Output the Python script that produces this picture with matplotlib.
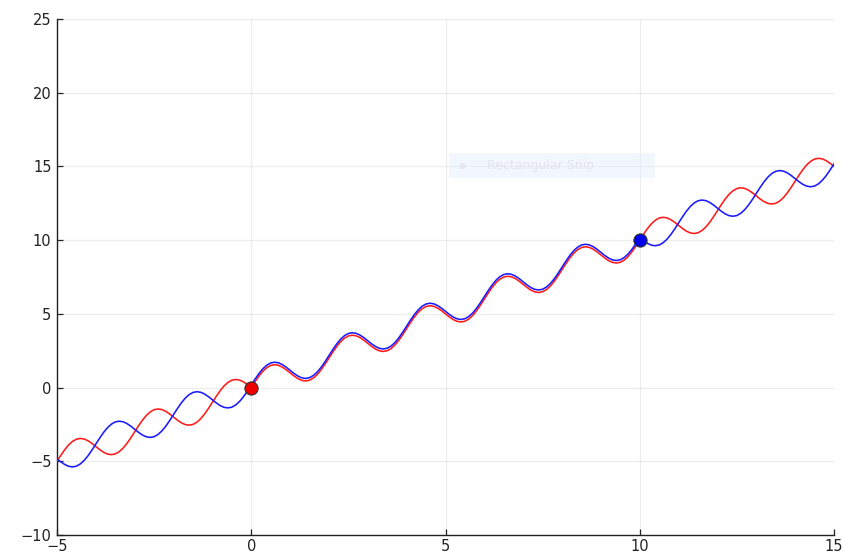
import numpy as np
import matplotlib.pyplot as plt
from matplotlib.patches import Rectangle

# sample positions along x (step 0.1)
x = np.linspace(-5, 15, 201)

# red trajectory (passes through the start point at the origin)
red_y = [
    -5.00, -4.59, -4.21, -3.89, -3.65, -3.50, -3.45, -3.49, -3.61, -3.79,
    -4.00, -4.21, -4.39, -4.51, -4.55, -4.50, -4.35, -4.11, -3.79, -3.41,
    -3.00, -2.59, -2.21, -1.89, -1.65, -1.50, -1.45, -1.49, -1.61, -1.79,
    -2.00, -2.21, -2.39, -2.51, -2.55, -2.50, -2.35, -2.11, -1.79, -1.41,
    -1.00, -0.59, -0.21, 0.11, 0.35, 0.50, 0.55, 0.51, 0.39, 0.21,
    0.00, 0.41, 0.79, 1.11, 1.35, 1.50, 1.55, 1.51, 1.39, 1.21,
    1.00, 0.79, 0.61, 0.49, 0.45, 0.50, 0.65, 0.89, 1.21, 1.59,
    2.00, 2.41, 2.79, 3.11, 3.35, 3.50, 3.55, 3.51, 3.39, 3.21,
    3.00, 2.79, 2.61, 2.49, 2.45, 2.50, 2.65, 2.89, 3.21, 3.59,
    4.00, 4.41, 4.79, 5.11, 5.35, 5.50, 5.55, 5.51, 5.39, 5.21,
    5.00, 4.79, 4.61, 4.49, 4.45, 4.50, 4.65, 4.89, 5.21, 5.59,
    6.00, 6.41, 6.79, 7.11, 7.35, 7.50, 7.55, 7.51, 7.39, 7.21,
    7.00, 6.79, 6.61, 6.49, 6.45, 6.50, 6.65, 6.89, 7.21, 7.59,
    8.00, 8.41, 8.79, 9.11, 9.35, 9.50, 9.55, 9.51, 9.39, 9.21,
    9.00, 8.79, 8.61, 8.49, 8.45, 8.50, 8.65, 8.89, 9.21, 9.59,
    10.00, 10.41, 10.79, 11.11, 11.35, 11.50, 11.55, 11.51, 11.39, 11.21,
    11.00, 10.79, 10.61, 10.49, 10.45, 10.50, 10.65, 10.89, 11.21, 11.59,
    12.00, 12.41, 12.79, 13.11, 13.35, 13.50, 13.55, 13.51, 13.39, 13.21,
    13.00, 12.79, 12.61, 12.49, 12.45, 12.50, 12.65, 12.89, 13.21, 13.59,
    14.00, 14.41, 14.79, 15.11, 15.35, 15.50, 15.55, 15.51, 15.39, 15.21,
    15.00,
]

# blue trajectory (passes through the end point at (10, 10))
blue_y = [
    -4.85, -5.04, -5.22, -5.34, -5.38, -5.33, -5.18, -4.94, -4.62, -4.24,
    -3.83, -3.42, -3.04, -2.72, -2.48, -2.33, -2.28, -2.32, -2.44, -2.62,
    -2.83, -3.04, -3.22, -3.34, -3.38, -3.33, -3.18, -2.94, -2.62, -2.24,
    -1.83, -1.42, -1.04, -0.72, -0.48, -0.33, -0.28, -0.32, -0.44, -0.62,
    -0.83, -1.04, -1.22, -1.34, -1.38, -1.33, -1.18, -0.94, -0.62, -0.24,
    0.17, 0.58, 0.96, 1.28, 1.52, 1.67, 1.72, 1.68, 1.56, 1.38,
    1.17, 0.96, 0.78, 0.66, 0.62, 0.67, 0.82, 1.06, 1.38, 1.76,
    2.17, 2.58, 2.96, 3.28, 3.52, 3.67, 3.72, 3.68, 3.56, 3.38,
    3.17, 2.96, 2.78, 2.66, 2.62, 2.67, 2.82, 3.06, 3.38, 3.76,
    4.17, 4.58, 4.96, 5.28, 5.52, 5.67, 5.72, 5.68, 5.56, 5.38,
    5.17, 4.96, 4.78, 4.66, 4.62, 4.67, 4.82, 5.06, 5.38, 5.76,
    6.17, 6.58, 6.96, 7.28, 7.52, 7.67, 7.72, 7.68, 7.56, 7.38,
    7.17, 6.96, 6.78, 6.66, 6.62, 6.67, 6.82, 7.06, 7.38, 7.76,
    8.17, 8.58, 8.96, 9.28, 9.52, 9.67, 9.72, 9.68, 9.56, 9.38,
    9.17, 8.96, 8.78, 8.66, 8.62, 8.67, 8.82, 9.06, 9.38, 9.76,
    10.10, 9.96, 9.78, 9.66, 9.62, 9.67, 9.82, 10.06, 10.38, 10.76,
    11.17, 11.58, 11.96, 12.28, 12.52, 12.67, 12.72, 12.68, 12.56, 12.38,
    12.17, 11.96, 11.78, 11.66, 11.62, 11.67, 11.82, 12.06, 12.38, 12.76,
    13.17, 13.58, 13.96, 14.28, 14.52, 14.67, 14.72, 14.68, 14.56, 14.38,
    14.17, 13.96, 13.78, 13.66, 13.62, 13.67, 13.82, 14.06, 14.38, 14.76,
    15.17,
]

start_pt = (0, 0)
end_pt = (10, 10)

xticks = [-5, 0, 5, 10, 15]
yticks = [-10, -5, 0, 5, 10, 15, 20, 25]

fig = plt.figure(figsize=(8.43, 5.56), dpi=100)
ax = fig.add_axes([57 / 843, 1 - 535 / 556, (834 - 57) / 843, (535 - 19) / 556])

ax.plot(x, red_y, color='#ff1a1a', lw=1.15, zorder=3, solid_joinstyle='round')
ax.plot(x, blue_y, color='#1a1aff', lw=1.15, zorder=4, solid_joinstyle='round')
ax.plot(*start_pt, 'o', color='#ee0000', mec='#333333', mew=0.8, ms=9.5, zorder=5)
ax.plot(*end_pt, 'o', color='#0000ee', mec='#333333', mew=0.8, ms=9.5, zorder=5)

ax.set_xlim(-5, 15)
ax.set_ylim(-10, 25)
ax.set_xticks(xticks)
ax.set_yticks(yticks)
ax.set_xticklabels([str(t).replace('-', '\u2212') for t in xticks])
ax.set_yticklabels([str(t).replace('-', '\u2212') for t in yticks])
ax.grid(True, color='#000000', alpha=0.07, lw=0.9)
ax.set_axisbelow(True)

for side in ['top', 'right']:
    ax.spines[side].set_visible(False)
for side in ['left', 'bottom']:
    ax.spines[side].set_color('#222222')
    ax.spines[side].set_linewidth(1.0)
ax.tick_params(direction='in', length=4, width=0.9, colors='#222222',
               labelsize=10.5, labelcolor='#222222', pad=4)
ax.tick_params(axis='x', pad=3)

# faint snipping-tool overlay
fig.patches.append(Rectangle((449 / 843, 1 - 178 / 556), 206 / 843, 25 / 556,
                             transform=fig.transFigure, facecolor='#e3effb',
                             alpha=0.45, edgecolor='none', zorder=10))
fig.text(462 / 843, 1 - 166 / 556, '\u25cf', color='#e4e8ee', fontsize=6,
         ha='center', va='center', zorder=11)
fig.text(487 / 843, 1 - 166 / 556, 'Rectangular Snip', color='#e2e6ec',
         fontsize=9, ha='left', va='center', zorder=11)

fig.savefig('out.png', dpi=100)
